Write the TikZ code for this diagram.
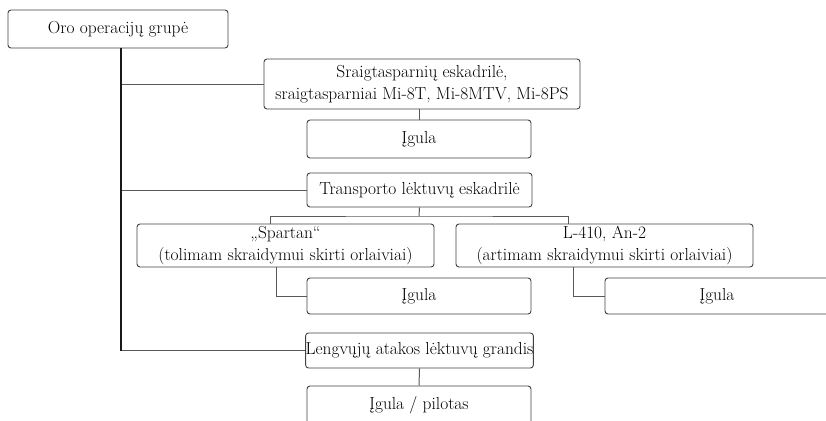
\documentclass[tikz,border=0pt]{standalone}
\usepackage{fontspec}

\begin{document}
\begin{tikzpicture}[
	x=1pt, y=-1pt,
	box/.style={
		draw=black!75, rectangle, rounded corners=3pt, line width=0.9pt,
		minimum width=224pt, minimum height=38pt,
		font=\fontsize{17.4}{22}\selectfont, align=center, inner sep=0pt
	},
	edge/.style={draw=black!65, line width=1pt},
	trunkline/.style={draw=black!90, line width=1.5pt},
	]
	
	\useasboundingbox (0,0) rectangle (826,420);
	\clip (0,0) rectangle (826,420);
	
	\node[box, minimum width=220pt] (grp) at (118,29) {Oro operacijų grupė};
	\node[box, minimum width=316pt, minimum height=50pt] (heli) at (422,84)
		{Sraigtasparnių eskadrilė,\\sraigtasparniai Mi-8T, Mi-8MTV, Mi-8PS};
	\node[box] (heliCrew) at (419,139) {Įgula};
	\node[box, minimum width=225pt, minimum height=34pt] (trans) at (419.5,190) {Transporto lėktuvų eskadrilė};
	\node[box, minimum width=297pt, minimum height=43pt] (spartan) at (285.5,245.5)
		{„Spartan“\\(tolimam skraidymui skirti orlaiviai)};
	\node[box, minimum width=297pt, minimum height=43pt] (let) at (604.5,245.5)
		{L-410, An-2\\(artimam skraidymui skirti orlaiviai)};
	\node[box, minimum height=36pt] (spCrew) at (419,296) {Įgula};
	\node[box, minimum height=36pt] (letCrew) at (717,296) {Įgula};
	\node[box, minimum width=225pt, minimum height=35pt] (light) at (419.5,350.5) {Lengvųjų atakos lėktuvų grandis};
	\node[box] (lightCrew) at (419,405) {Įgula / pilotas};
	
	\coordinate (trunk) at (121,48);
	\coordinate (fork)  at (419,216);
	
	\draw[edge] (trunk |- heli.west)  -- (heli.west);
	\draw[edge] (trunk |- trans.west) -- (trans.west);
	\draw[edge] (trunk |- light.west) -- (light.west);
	\draw[trunkline] (trunk) -- (trunk |- light.west);
	
	\draw[edge] (heliCrew.north |- heli.south) -- (heliCrew.north);
	\draw[edge] (trans.south) -- (fork);
	\draw[edge] ([xshift=-15pt]spartan.north) |- (fork) -| ([xshift=-36pt]let.north);
	\draw[edge] ([xshift=-9pt]spartan.south) |- (spCrew.west);
	\draw[edge] ([xshift=-31pt]let.south) |- (letCrew.west);
	\draw[edge] (light.south) -- (lightCrew.north);
	
\end{tikzpicture}
\end{document}
